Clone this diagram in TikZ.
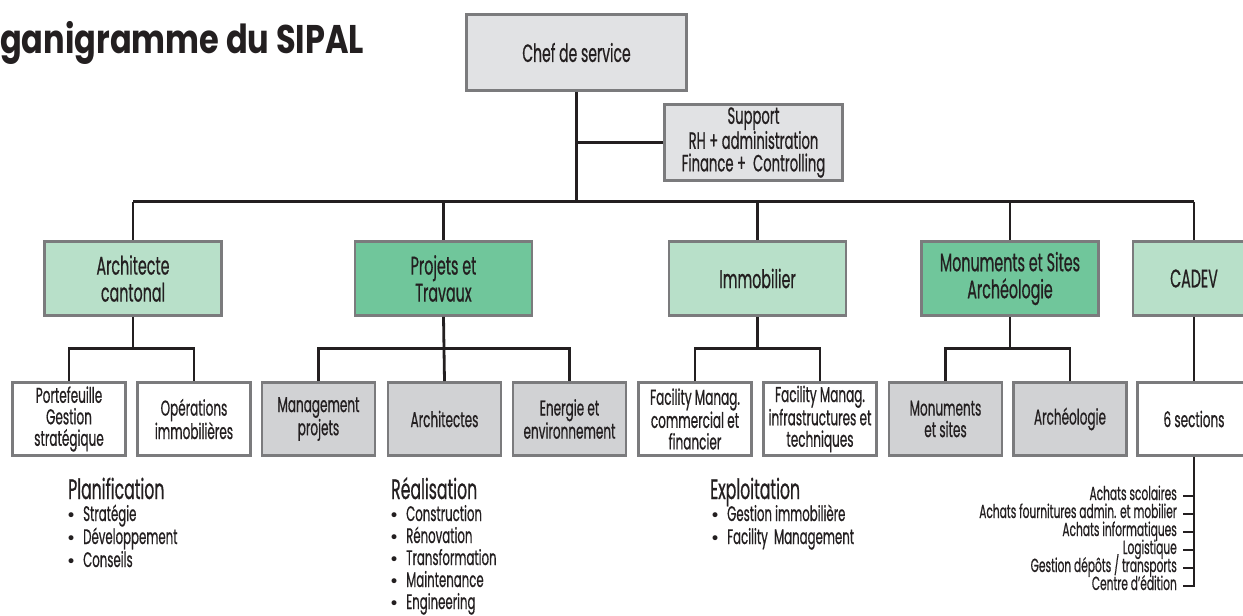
\documentclass[tikz,border=0pt]{standalone}
\usepackage{fontspec}
\setmainfont{Poppins}[FakeStretch=0.56, FakeBold=0.6]
\newfontfamily\titlefont{Poppins}[FakeStretch=0.8]
\newfontfamily\bulletfont{DejaVu Sans}
\definecolor{bordergray}{HTML}{7B7B7D}
\definecolor{chefgray}{HTML}{E1E2E4}
\definecolor{subgray}{HTML}{D1D2D4}
\definecolor{lightgreen}{HTML}{B8E0C9}
\definecolor{darkgreen}{HTML}{70C69B}
\definecolor{linecol}{HTML}{231F20}
\newcommand{\blt}{\makebox[17pt][l]{\bulletfont\fontsize{17}{17}\selectfont •}}
\begin{document}
\begin{tikzpicture}[x=1pt,y=-1pt,
  box/.style={draw=bordergray, line width=2.6pt, inner sep=0pt, align=center, text=linecol},
  chefbox/.style={box, fill=chefgray, minimum width=220pt, minimum height=76pt, font=\fontsize{25}{27}\selectfont},
  supbox/.style={box, fill=chefgray, minimum width=178pt, minimum height=76pt, font=\fontsize{23.5}{22.5}\selectfont},
  midbox/.style={box, minimum width=177pt, minimum height=74pt, font=\fontsize{25.5}{27}\selectfont},
  subbox/.style={box, minimum width=113pt, minimum height=73pt, font=\fontsize{21.5}{21.5}\selectfont},
  conn/.style={draw=linecol, line width=2.8pt},
  heading/.style={inner sep=0pt, anchor=base west, text=linecol, font=\fontsize{28}{28}\selectfont},
  itemtext/.style={inner sep=0pt, anchor=base west, text=linecol, font=\fontsize{21}{23}\selectfont},
  cadevitem/.style={inner sep=0pt, anchor=base east, text=linecol, font=\fontsize{19}{18}\selectfont},
  titletext/.style={inner sep=0pt, anchor=base west, text=linecol, font=\titlefont\bfseries\fontsize{40}{40}\selectfont}
]
\useasboundingbox (0,0) rectangle (1243,616);

% title
\node[titletext] (title) at (0,53) {ganigramme du SIPAL};

% top
\node[chefbox] (chef) at (576.5,52.5) {Chef de service};
\node[supbox] (support) at (753.5,142.5) {Support\\RH + administration\\Finance +\ \ Controlling};

% middle row
\node[midbox, fill=lightgreen] (arch) at (133,278.5) {Architecte\\cantonal};
\node[midbox, fill=darkgreen] (proj) at (443.5,278.5) {Projets et\\Travaux};
\node[midbox, fill=lightgreen] (immo) at (757.5,278.5) {Immobilier};
\node[midbox, fill=darkgreen] (monu) at (1010,278.5) {Monuments et Sites\\Archéologie};
\node[midbox, fill=lightgreen, minimum width=122pt] (cadev) at (1194,278.5) {CADEV};

% sub row
\node[subbox, fill=white] (port) at (69,419) {Portefeuille\\Gestion\\stratégique};
\node[subbox, fill=white] (oper) at (194,419) {Opérations\\immobilières};
\node[subbox, fill=subgray] (mgmt) at (318.5,419) {Management\\projets};
\node[subbox, fill=subgray] (archi) at (444.5,419) {Architectes};
\node[subbox, fill=subgray] (ener) at (569.5,419) {Energie et\\environnement};
\node[subbox, fill=white] (fcom) at (695,419) {Facility Manag.\\commercial et\\financier};
\node[subbox, fill=white] (finf) at (820,419) {Facility Manag.\\infrastructures et\\techniques};
\node[subbox, fill=subgray] (msit) at (945.5,419) {Monuments\\et sites};
\node[subbox, fill=subgray] (arch2) at (1070,419) {Archéologie};
\node[subbox, fill=white] (six) at (1194,419) {6 sections};

% connectors top
\path (chef.south) ++(0,110) coordinate (hub);
\draw[conn] (chef.south) -- (hub);
\draw[conn] (chef.south |- support.west) -- (support.west);
\draw[conn] (arch.north |- hub) -- (cadev.north |- hub);
\foreach \n in {arch,proj,immo,monu,cadev} {\draw[conn] (\n.north |- hub) -- (\n.north);}

% sub connectors
\path (arch.south) ++(0,32) coordinate (archbus);
\draw[conn] (arch.south) -- (archbus);
\draw[conn] (port.north) |- (archbus) -| (oper.north);
\path (proj.south) ++(0,32) coordinate (projbus);
\draw[conn] (proj.south) -- (archi.north);
\draw[conn] (mgmt.north) |- (projbus) -| (ener.north);
\path (immo.south) ++(0,32) coordinate (immobus);
\draw[conn] (immo.south) -- (immobus);
\draw[conn] (fcom.north) |- (immobus) -| (finf.north);
\path (monu.south) ++(0,32) coordinate (monubus);
\draw[conn] (monu.south) -- (monubus);
\draw[conn] (msit.north) |- (monubus) -| (arch2.north);
\draw[conn] (cadev.south) -- (six.north);

% lists
\node[heading] (plan) at (68,499) {Planification};
\node[itemtext] (planA) at (66,521) {\blt Stratégie};
\node[itemtext] (planB) at (66,544) {\blt Développement};
\node[itemtext] (planC) at (66,567) {\blt Conseils};

\node[heading] (real) at (391,499) {Réalisation};
\node[itemtext] (realA) at (389,521) {\blt Construction};
\node[itemtext] (realB) at (389,543) {\blt Rénovation};
\node[itemtext] (realC) at (389,565) {\blt Transformation};
\node[itemtext] (realD) at (389,587) {\blt Maintenance};
\node[itemtext] (realE) at (389,609) {\blt Engineering};

\node[heading] (expl) at (710,499) {Exploitation};
\node[itemtext] (explA) at (710,521) {\blt Gestion immobilière};
\node[itemtext] (explB) at (710,544) {\blt Facility\ \ Management};

% CADEV list
\coordinate (tA) at (1183,496);
\coordinate (tB) at (1183,514);
\coordinate (tC) at (1183,532);
\coordinate (tD) at (1183,550);
\coordinate (tE) at (1183,568);
\coordinate (tF) at (1183,586);
\draw[conn] (six.south) |- (tF);
\foreach \t in {tA,tB,tC,tD,tE} {\draw[conn] (\t) -- (\t -| six.south);}
\node[cadevitem] (cA) at (1177,500) {Achats scolaires};
\node[cadevitem] (cB) at (1177,518) {Achats fournitures admin. et mobilier};
\node[cadevitem] (cC) at (1177,536) {Achats informatiques};
\node[cadevitem] (cD) at (1177,554) {Logistique};
\node[cadevitem] (cE) at (1177,572) {Gestion dépôts / transports};
\node[cadevitem] (cF) at (1177,590) {Centre d'édition};
\end{tikzpicture}
\end{document}
